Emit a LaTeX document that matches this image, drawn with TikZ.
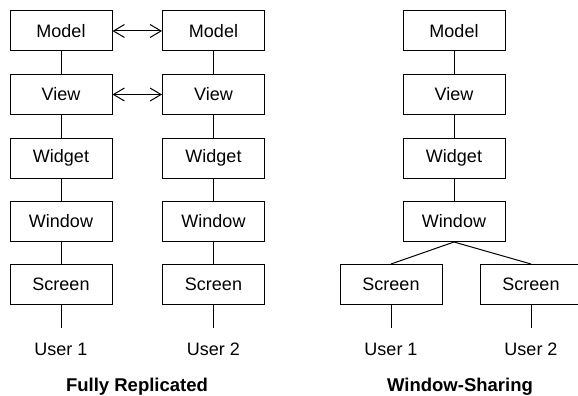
\documentclass[tikz,border=0pt]{standalone}
\usepackage{fontspec}
\setmainfont{Liberation Sans}
\usetikzlibrary{arrows.meta}

\tikzset{
	layer/.style={draw, minimum width=102pt, minimum height=40pt, inner sep=0pt, font=\fontsize{18}{21}\selectfont},
	user/.style={inner sep=0pt, font=\fontsize{18}{21}\selectfont},
	caption/.style={inner sep=0pt, font=\fontsize{18.5}{21}\selectfont\bfseries},
	sync/.style={<->, >={Straight Barb[length=11pt,width=13pt,line width=1pt]}}
}

\begin{document}
\begin{tikzpicture}[x=1pt, y=-1pt, line width=1pt]
	\useasboundingbox (0,0) rectangle (578,396);
	% fully replicated
	\foreach \c/\x in {a/61, b/213.5} {
		\node[layer] (\c model) at (\x,31) {Model};
		\node[layer] (\c view) at (\x,94.5) {View};
		\node[layer] (\c widget) at (\x,158) {Widget};
		\node[layer] (\c window) at (\x,221.5) {Window};
		\node[layer] (\c screen) at (\x,284.5) {Screen};
		\coordinate (\c end) at (\x,328);
		\draw (\c model) -- (\c view) -- (\c widget) -- (\c window) -- (\c screen) -- (\c end);
	}
	\node[user] (auser) at (61,349) {User 1};
	\node[user] (buser) at (213.5,349) {User 2};
	\draw[sync] (amodel) -- (bmodel);
	\draw[sync] (aview) -- (bview);
	\node[caption] (full) at (137,387) {Fully Replicated};
	% window-sharing
	\node[layer] (smodel) at (454,31) {Model};
	\node[layer] (sview) at (454,94.5) {View};
	\node[layer] (swidget) at (454,158) {Widget};
	\node[layer] (swindow) at (454,221.5) {Window};
	\node[layer] (sscreena) at (391,284.5) {Screen};
	\node[layer] (sscreenb) at (531,284.5) {Screen};
	\coordinate (senda) at (391,328);
	\coordinate (sendb) at (531,328);
	\draw (smodel) -- (sview) -- (swidget) -- (swindow);
	\draw (swindow.south) -- (sscreena.north);
	\draw (swindow.south) -- (sscreenb.north);
	\draw (sscreena) -- (senda);
	\draw (sscreenb) -- (sendb);
	\node[user] (susera) at (391,349) {User 1};
	\node[user] (suserb) at (531,349) {User 2};
	\node[caption] (shared) at (460,387) {Window-Sharing};
\end{tikzpicture}
\end{document}
